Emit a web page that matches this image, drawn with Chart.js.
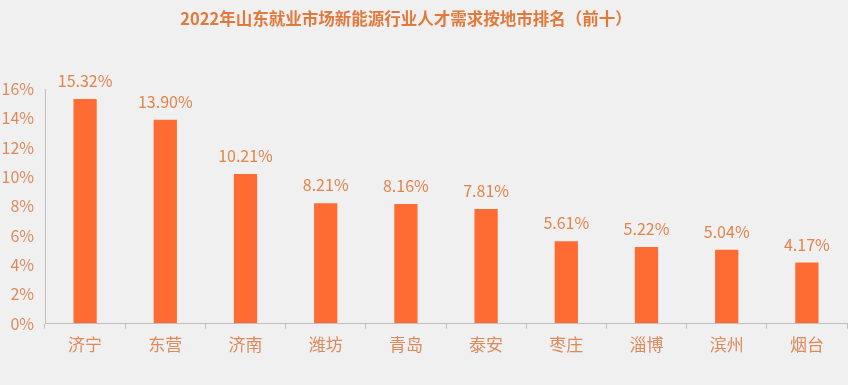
<!DOCTYPE html>
<html>
<head>
<meta charset="utf-8">
<script src="https://cdn.jsdelivr.net/npm/chart.js@4.4.0/dist/chart.umd.min.js"></script>
<style>
html,body{margin:0;padding:0;background:#f0f0f0;}
#wrap{width:848px;height:385px;position:relative;}
</style>
</head>
<body>
<div id="wrap"><canvas id="c" width="848" height="385"></canvas></div>
<script>
const categories = ['济宁','东营','济南','潍坊','青岛','泰安','枣庄','淄博','滨州','烟台'];
const values = [15.32, 13.90, 10.21, 8.21, 8.16, 7.81, 5.61, 5.22, 5.04, 4.17];
const titleText = '2022年山东就业市场新能源行业人才需求按地市排名（前十）';
const yMax = 16;
const yStep = 2;

const FONT = '"Noto Sans CJK SC", "Noto Sans", sans-serif';

const labelPlugin = {
  id: 'valLabels',
  afterDatasetsDraw(chart) {
    const ctx = chart.ctx;
    const meta = chart.getDatasetMeta(0);
    ctx.save();
    ctx.font = '16px ' + FONT;
    ctx.fillStyle = '#E0844C';
    ctx.textAlign = 'center';
    ctx.textBaseline = 'middle';
    meta.data.forEach((bar, i) => {
      ctx.fillText(values[i].toFixed(2) + '%', bar.x, bar.y - 18);
    });
    // title
    ctx.font = 'bold 16.5px ' + FONT;
    ctx.fillStyle = '#E07A3C';
    ctx.fillText(titleText, 406, 19);
    ctx.restore();
  }
};

new Chart(document.getElementById('c'), {
  type: 'bar',
  data: {
    labels: categories,
    datasets: [{
      data: values,
      backgroundColor: '#FF6C33',
      barPercentage: 0.29,
      categoryPercentage: 1.0
    }]
  },
  options: {
    responsive: false,
    animation: false,
    layout: { padding: { left: 0, right: 1, top: 0, bottom: 24 } },
    plugins: {
      legend: { display: false },
      tooltip: { enabled: false },
      title: {
        display: true,
        text: titleText,
        color: 'rgba(0,0,0,0)',
        font: { family: FONT, size: 15, weight: 'bold' },
        padding: { top: 9, bottom: 62 },
        align: 'center'
      }
    },
    scales: {
      x: {
        grid: { display: true, drawOnChartArea: false, drawTicks: true, tickLength: 5, color: '#BFBFBF', offset: true },
        border: { display: true, color: '#BFBFBF', width: 1 },
        ticks: { color: '#DC8A5C', font: { family: FONT, size: 17 }, padding: 6 }
      },
      y: {
        min: 0,
        max: yMax,
        afterFit(scale) { scale.width = 45; },
        grid: { display: true, drawOnChartArea: false, drawTicks: false },
        border: { display: true, color: '#BFBFBF', width: 1 },
        ticks: {
          stepSize: yStep,
          color: '#DC8A5C',
          font: { family: FONT, size: 16 },
          padding: 11,
          callback: v => v + '%'
        }
      }
    }
  },
  plugins: [labelPlugin]
});
</script>
</body>
</html>
